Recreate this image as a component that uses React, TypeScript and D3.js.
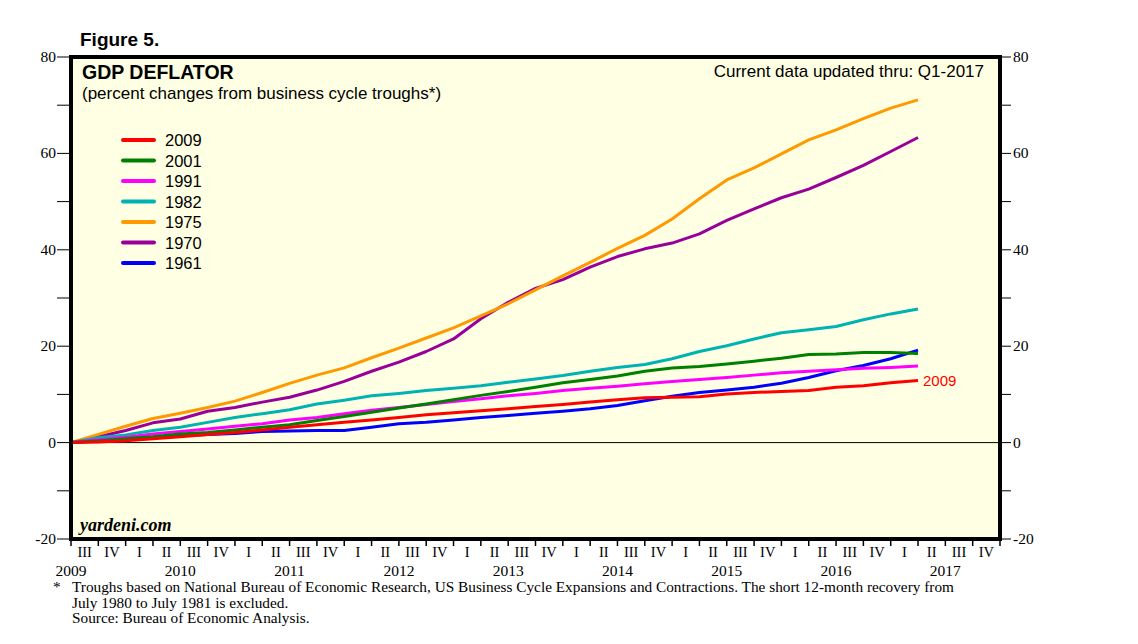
import React from 'react'
import * as d3 from 'd3'

// quarters since trough (index 0 = trough quarter, plotted at quarter end)
const s2009 = [0, 0.15, 0.4, 0.8, 1.2, 1.7, 2.1, 2.6, 3.2, 3.7, 4.2, 4.7, 5.2, 5.8, 6.2, 6.6, 7.0, 7.5, 7.9, 8.4, 8.9, 9.3, 9.4, 9.5, 10.1, 10.4, 10.6, 10.8, 11.5, 11.8, 12.4, 12.9]
const s2001 = [0, 0.35, 0.8, 1.2, 1.8, 2.1, 2.6, 3.2, 3.7, 4.6, 5.4, 6.3, 7.2, 8.0, 8.9, 9.8, 10.6, 11.5, 12.4, 13.1, 13.8, 14.8, 15.5, 15.8, 16.3, 16.9, 17.5, 18.3, 18.4, 18.7, 18.7, 18.5]
const s1991 = [0, 0.6, 1.1, 1.8, 2.3, 2.8, 3.4, 3.9, 4.7, 5.2, 6.0, 6.7, 7.3, 7.9, 8.5, 9.1, 9.7, 10.2, 10.8, 11.3, 11.7, 12.2, 12.7, 13.1, 13.5, 14.0, 14.5, 14.8, 15.1, 15.4, 15.6, 15.9]
const s1982 = [0, 1.0, 1.6, 2.5, 3.2, 4.2, 5.2, 6.0, 6.8, 8.0, 8.8, 9.7, 10.2, 10.8, 11.3, 11.8, 12.5, 13.2, 13.9, 14.8, 15.6, 16.2, 17.4, 18.9, 20.1, 21.5, 22.8, 23.4, 24.1, 25.5, 26.7, 27.7]
const s1975 = [0, 1.7, 3.4, 5.0, 6.1, 7.3, 8.6, 10.4, 12.3, 14.0, 15.5, 17.6, 19.6, 21.7, 23.8, 26.3, 28.8, 31.7, 34.6, 37.4, 40.3, 43.0, 46.4, 50.6, 54.5, 57.0, 59.9, 62.8, 64.9, 67.2, 69.4, 71.1]
const s1970 = [0, 1.2, 2.5, 4.1, 4.9, 6.5, 7.3, 8.4, 9.4, 10.9, 12.7, 14.8, 16.7, 18.9, 21.5, 25.7, 29.1, 32.0, 33.8, 36.4, 38.6, 40.2, 41.4, 43.3, 46.1, 48.5, 50.8, 52.6, 55.0, 57.5, 60.4, 63.3]
const s1961 = [0, 0.4, 0.8, 1.1, 1.4, 1.7, 1.9, 2.3, 2.4, 2.5, 2.5, 3.2, 3.9, 4.2, 4.7, 5.2, 5.6, 6.1, 6.5, 7.0, 7.7, 8.7, 9.6, 10.4, 10.9, 11.5, 12.3, 13.5, 14.9, 16.0, 17.4, 19.2]

const seriesNames = ['2009', '2001', '1991', '1982', '1975', '1970', '1961']
const seriesValues = [s2009, s2001, s1991, s1982, s1975, s1970, s1961]
const seriesColors = ['#ff0000', '#008000', '#ff00ff', '#00b3b3', '#ff9900', '#990099', '#0000ff']

const quarterLabels = ['III', 'IV', 'I', 'II', 'III', 'IV', 'I', 'II', 'III', 'IV', 'I', 'II', 'III', 'IV', 'I', 'II', 'III', 'IV', 'I', 'II', 'III', 'IV', 'I', 'II', 'III', 'IV', 'I', 'II', 'III', 'IV', 'I', 'II', 'III', 'IV']
const yearLabels = ['2009', '2010', '2011', '2012', '2013', '2014', '2015', '2016', '2017']
const yTicks = [-20, -10, 0, 10, 20, 30, 40, 50, 60, 70, 80]
const yLabels = [-20, 0, 20, 40, 60, 80]

const footnote = [
  'Troughs based on National Bureau of Economic Research, US Business Cycle Expansions and Contractions. The short 12-month recovery from',
  'July 1980 to July 1981 is excluded.',
  'Source: Bureau of Economic Analysis.'
]

const W = 1138
const H = 644
const left = 71
const right = 1000
const top = 57
const bottom = 539

const serif = '"Liberation Serif", "Times New Roman", serif'
const sans = '"Liberation Sans", Arial, sans-serif'

export default function App() {
  const x = d3.scaleLinear().domain([0, quarterLabels.length]).range([left, right])
  const y = d3.scaleLinear().domain([-20, 80]).range([bottom, top])

  const line = d3.line<number>()
    .x((_, i) => x(i))
    .y(d => y(d))

  // draw oldest first so 2009 sits on top
  const order = seriesNames.map((_, i) => i).reverse()

  return (
    <svg width={W} height={H} style={{ position: 'absolute', left: 0, top: 0, background: '#fff' }}>
      <text x={80} y={46} fontFamily={sans} fontWeight="bold" fontSize={19}>Figure 5.</text>

      <rect x={left} y={top} width={right - left} height={bottom - top} fill="#ffffe3" />

      {/* zero line */}
      <line x1={left} x2={right} y1={y(0)} y2={y(0)} stroke="#000" strokeWidth={1} />

      {order.map(k => (
        <path key={seriesNames[k]} d={line(seriesValues[k]) || ''} fill="none"
          stroke={seriesColors[k]} strokeWidth={3} strokeLinejoin="round" />
      ))}

      <text x={x(seriesValues[0].length - 1) + 5} y={y(s2009[s2009.length - 1]) + 6}
        fontFamily={sans} fontSize={15} fill="#ff0000">2009</text>

      {/* frame */}
      <rect x={left} y={top} width={right - left} height={bottom - top} fill="none" stroke="#000" strokeWidth={4} />

      {/* y ticks both sides */}
      {yTicks.map(t => (
        <g key={t}>
          <line x1={left - 14} x2={left} y1={y(t)} y2={y(t)} stroke="#000" strokeWidth={1} />
          <line x1={right} x2={right + 11} y1={y(t)} y2={y(t)} stroke="#000" strokeWidth={1} />
        </g>
      ))}
      {yLabels.map(t => (
        <g key={t} fontFamily={serif} fontSize={15.5}>
          <text x={left - 15} y={y(t) + 5} textAnchor="end">{t}</text>
          <text x={right + 13} y={y(t) + 5}>{t}</text>
        </g>
      ))}

      {/* x axis */}
      {d3.range(quarterLabels.length + 1).map(i => (
        <line key={i} x1={x(i)} x2={x(i)} y1={bottom} y2={bottom + 7} stroke="#000" strokeWidth={1.5} />
      ))}
      {quarterLabels.map((q, i) => (
        <text key={i} x={x(i + 0.5)} y={bottom + 18} textAnchor="middle" fontFamily={serif} fontSize={14.5}>{q}</text>
      ))}
      {yearLabels.map((yr, i) => (
        <text key={yr} x={x(i * 4)} y={bottom + 37} textAnchor="middle" fontFamily={serif} fontSize={15.5}>{yr}</text>
      ))}

      {/* titles */}
      <text x={82} y={79} fontFamily={sans} fontWeight="bold" fontSize={19.5}>GDP DEFLATOR</text>
      <text x={82} y={99} fontFamily={sans} fontSize={17}>(percent changes from business cycle troughs*)</text>
      <text x={984} y={77} textAnchor="end" fontFamily={sans} fontSize={17}>Current data updated thru: Q1-2017</text>

      {/* legend */}
      {seriesNames.map((n, i) => (
        <g key={n} transform={`translate(0,${140 + i * 20.5})`}>
          <line x1={123} x2={154} y1={0} y2={0} stroke={seriesColors[i]} strokeWidth={4} strokeLinecap="round" />
          <text x={165} y={6} fontFamily={sans} fontSize={16.5}>{n}</text>
        </g>
      ))}

      <text x={80} y={531} fontFamily={serif} fontStyle="italic" fontWeight="bold" fontSize={18}>yardeni.com</text>

      {/* footnote */}
      <text x={53} y={592} fontFamily={serif} fontSize={15.3}>*</text>
      {footnote.map((f, i) => (
        <text key={i} x={72} y={592 + i * 15.5} fontFamily={serif} fontSize={15.3}>{f}</text>
      ))}
    </svg>
  )
}
